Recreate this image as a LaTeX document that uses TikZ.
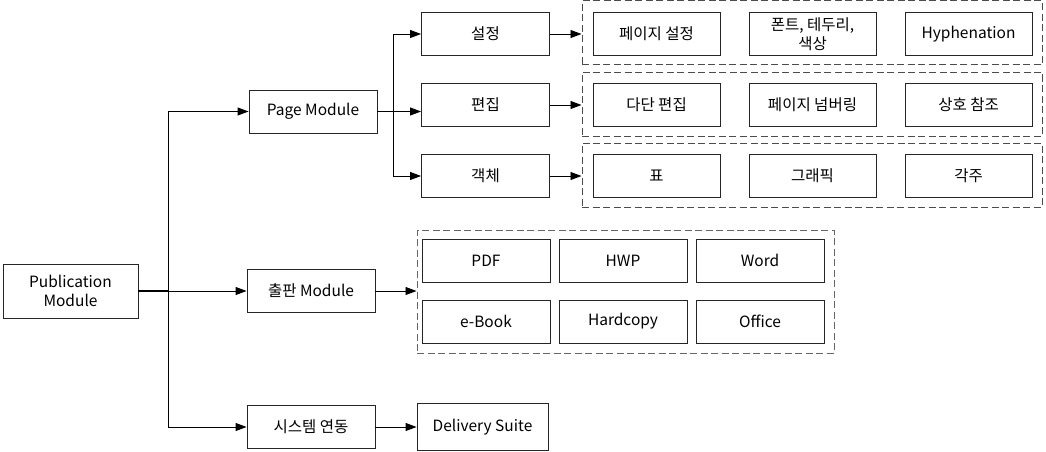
\documentclass[tikz,border=0pt]{standalone}
\usepackage{fontspec}
\setmainfont{Noto Sans CJK KR}
\usetikzlibrary{arrows.meta}
\begin{document}
\begin{tikzpicture}[x=1pt,y=-1pt,
  box/.style={draw=black!85, line width=0.9pt, inner sep=0pt, align=center,
    minimum width=128pt, minimum height=43pt, font=\fontsize{15.5}{19}\selectfont},
  grp/.style={draw=black!70, line width=1pt, dash pattern=on 7pt off 3.5pt, inner sep=0pt},
  conn/.style={draw=black, line width=0.9pt},
  arr/.style={conn, -{Triangle[length=11pt,width=8pt]}}
]
\useasboundingbox (0,0) rectangle (1046,452);
% left column
\node[box, minimum width=135pt, minimum height=54pt] (pub) at (70.5,291) {Publication\\Module};
\node[box] (page) at (313,111.5) {Page Module};
\node[box] (chul) at (311,291) {출판 Module};
\node[box] (sys) at (311,427) {시스템 연동};
% page sub
\node[box] (set) at (485.5,34) {설정};
\node[box] (edit) at (485.5,105) {편집};
\node[box] (obj) at (485.5,176) {객체};
% groups
\node[grp, minimum width=460pt, minimum height=64pt] (g1) at (812,33) {};
\node[grp, minimum width=460pt, minimum height=64pt] (g2) at (812,104) {};
\node[grp, minimum width=460pt, minimum height=64pt] (g3) at (812,175) {};
\node[grp, draw=black!60, minimum width=417pt, minimum height=123pt] (g4) at (625.5,291.5) {};
% group 1
\node[box, minimum width=127pt] (a1) at (656.5,34) {페이지 설정};
\node[box, minimum width=127pt] (a2) at (812.5,34) {폰트, 테두리,\\색상};
\node[box, minimum width=127pt] (a3) at (968.5,34) {Hyphenation};
% group 2
\node[box, minimum width=127pt] (b1) at (656.5,105) {다단 편집};
\node[box, minimum width=127pt] (b2) at (812.5,105) {페이지 넘버링};
\node[box, minimum width=127pt] (b3) at (968.5,105) {상호 참조};
% group 3
\node[box, minimum width=127pt] (c1) at (656.5,176) {표};
\node[box, minimum width=127pt] (c2) at (812.5,176) {그래픽};
\node[box, minimum width=127pt] (c3) at (968.5,176) {각주};
% output group
\node[box] (d1) at (486,260.5) {PDF};
\node[box] (d2) at (623,260.5) {HWP};
\node[box] (d3) at (760,260.5) {Word};
\node[box] (e1) at (486,321.5) {e-Book};
\node[box] (e2) at (623,321.5) {Hardcopy};
\node[box] (e3) at (760,321.5) {Office};
% delivery
\node[box, minimum width=131pt, minimum height=47pt] (del) at (482.5,427) {Delivery Suite};
% connectors
\coordinate (tj) at (168,291);
\coordinate (pj) at (393,111.5);
\draw[conn, line width=1.6pt] (pub.east) -- (tj);
\draw[arr] (tj) -- (chul.west);
\draw[arr] (tj) |- (page.west);
\draw[arr] (tj) |- (sys.west);
\draw[arr] (page.east) -- (page.east -| edit.west);
\draw[arr] (pj) |- (set.west);
\draw[arr] (pj) |- (obj.west);
\draw[arr] (set.east) -- (set.east -| g1.west);
\draw[arr] (edit.east) -- (edit.east -| g2.west);
\draw[arr] (obj.east) -- (obj.east -| g3.west);
\draw[arr] (chul.east) -- (chul.east -| g4.west);
\draw[arr] (sys.east) -- (del.west);
\end{tikzpicture}
\end{document}
